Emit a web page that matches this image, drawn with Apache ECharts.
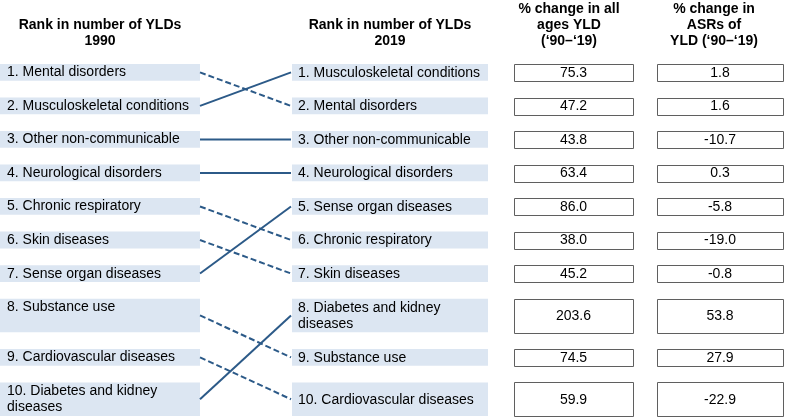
<!DOCTYPE html>
<html><head><meta charset="utf-8">
<script src="https://cdn.jsdelivr.net/npm/echarts@6/dist/echarts.min.js"></script>
<style>html,body{margin:0;padding:0;background:#fff}#c{width:787px;height:417px}</style>
</head><body><div id="c"></div>
<script>
// ---- data ----
const headers = [
  'Rank in number of YLDs\n1990',
  'Rank in number of YLDs\n2019',
  '% change in all\nages YLD\n(\u201890\u2013\u201819)',
  '% change in\nASRs of\nYLD (\u201890\u2013\u201819)'
];
const years = ['1990', '2019'];
const labels1990 = [
  '1. Mental disorders',
  '2. Musculoskeletal conditions',
  '3. Other non-communicable',
  '4. Neurological disorders',
  '5. Chronic respiratory',
  '6. Skin diseases',
  '7. Sense organ diseases',
  '8. Substance use',
  '9. Cardiovascular diseases',
  '10. Diabetes and kidney\ndiseases'
];
const labels2019 = [
  '1. Musculoskeletal conditions',
  '2. Mental disorders',
  '3. Other non-communicable',
  '4. Neurological disorders',
  '5. Sense organ diseases',
  '6. Chronic respiratory',
  '7. Skin diseases',
  '8. Diabetes and kidney\ndiseases',
  '9. Substance use',
  '10. Cardiovascular diseases'
];
// 2019 rank of each cause, in 1990 order
const rank2019 = [2, 1, 3, 4, 6, 7, 5, 9, 10, 8];
// values in 2019 rank order
const pctChangeAllAges = [75.3, 47.2, 43.8, 63.4, 86.0, 38.0, 45.2, 203.6, 74.5, 59.9];
const pctChangeASR = [1.8, 1.6, -10.7, 0.3, -5.8, -19.0, -0.8, 53.8, 27.9, -22.9];

// ---- layout ----
const FONT = '"Liberation Sans", Arial, Helvetica, sans-serif';
const FS = 14;
const BOX_FILL = '#dce6f2';
const LINE_COLOR = '#2c5a88';
const nLines = s => s.split('\n').length;
const rowUnits = labels1990.map((s, i) => Math.max(nLines(s), nLines(labels2019[i])));
const rowTop = [];
let acc = 0;
rowUnits.forEach(u => { rowTop.push(acc); acc += u + 1; });
const yMax = acc - 1;
const rowMid = i => rowTop[i] + rowUnits[i] / 2;

const cols = [
  { left: 0, width: 200 },
  { left: 200, width: 91 },
  { left: 292, width: 196 },
  { left: 514, width: 119 },
  { left: 657, width: 126 }
];
const headerX = [100, 390, 569, 714];

const grids = cols.map(c => ({ left: c.left, width: c.width, top: 64, height: 352, containLabel: false }));
const xAxes = cols.map((c, k) => k === 1
  ? { type: 'category', data: years, boundaryGap: false, gridIndex: k, show: false }
  : { type: 'value', min: 0, max: 1, gridIndex: k, show: false });
const yAxes = cols.map((c, k) => ({ type: 'value', min: 0, max: yMax, inverse: true, gridIndex: k, show: false }));

function boxSeries(k, texts, mode) {
  return {
    type: 'custom', xAxisIndex: k, yAxisIndex: k, silent: true, animation: false, clip: false,
    data: texts.map((t, i) => [0, rowTop[i]]),
    renderItem: function (params, api) {
      const i = params.dataIndex;
      const p0 = api.coord([0, rowTop[i]]);
      const p1 = api.coord([1, rowTop[i] + rowUnits[i]]);
      const w = p1[0] - p0[0], h = p1[1] - p0[1];
      const t = texts[i];
      let rect, text;
      if (mode === 'value') {
        rect = { type: 'rect', shape: { x: Math.round(p0[0]) + 0.5, y: Math.round(p0[1]) + 0.5, width: Math.round(w), height: Math.round(h) },
          style: { fill: '#fff', stroke: '#5f5f5f', lineWidth: 1 } };
        text = { type: 'text', style: { text: t, x: p0[0] + w / 2, y: p0[1] + h / 2 + 0.5,
          align: 'center', verticalAlign: 'middle', textAlign: 'center', textVerticalAlign: 'middle',
          fontSize: FS, fontFamily: FONT, fill: '#000', lineHeight: 16 } };
      } else {
        rect = { type: 'rect', shape: { x: p0[0], y: p0[1], width: w, height: h }, style: { fill: BOX_FILL } };
        const top = mode === 'top';
        text = { type: 'text', style: { text: t, x: p0[0] + 7 - (mode === 'mid' ? 1 : 0),
          y: top ? p0[1] + 0.5 : p0[1] + h / 2 + 0.5,
          align: 'left', textAlign: 'left',
          verticalAlign: top ? 'top' : 'middle', textVerticalAlign: top ? 'top' : 'middle',
          fontSize: FS, fontFamily: FONT, fill: '#000', lineHeight: 16 } };
      }
      return { type: 'group', children: [rect, text] };
    }
  };
}

const series = [
  boxSeries(0, labels1990, 'top'),
  boxSeries(2, labels2019, 'mid'),
  boxSeries(3, pctChangeAllAges.map(v => v.toFixed(1)), 'value'),
  boxSeries(4, pctChangeASR.map(v => v.toFixed(1)), 'value')
];
labels1990.forEach((s, i) => {
  const j = rank2019[i] - 1;
  series.push({
    type: 'line', xAxisIndex: 1, yAxisIndex: 1, silent: true, animation: false,
    symbol: 'none', clip: false,
    data: [rowMid(i), rowMid(j)],
    lineStyle: { color: LINE_COLOR, width: 2, type: j > i ? [6, 3] : 'solid' }
  });
});

const chart = echarts.init(document.getElementById('c'), null, { renderer: 'canvas' });
chart.setOption({
  backgroundColor: '#fff',
  animation: false,
  grid: grids, xAxis: xAxes, yAxis: yAxes,
  graphic: headers.map((h, k) => ({
    type: 'text', x: headerX[k], y: 49, silent: true,
    style: { text: h, align: 'center', verticalAlign: 'bottom', textAlign: 'center', textVerticalAlign: 'bottom',
      fontSize: FS, fontWeight: 'bold', fontFamily: FONT, fill: '#000', lineHeight: 16 }
  })),
  series: series
});
</script>
</body></html>
